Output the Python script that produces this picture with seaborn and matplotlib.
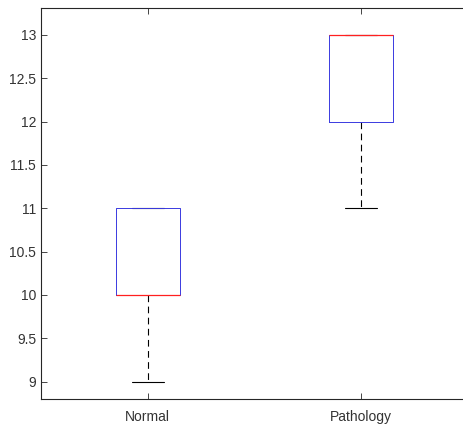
import matplotlib
matplotlib.use("Agg")
import matplotlib.pyplot as plt
import pandas as pd
import seaborn as sns

# raw values per group (quartiles / whiskers match the picture)
groups = ["Normal", "Pathology"]
normal_vals = [9, 10, 10, 11, 11]
pathology_vals = [11, 12, 13, 13, 13]
y_ticks = [9, 9.5, 10, 10.5, 11, 11.5, 12, 12.5, 13]

df = pd.DataFrame({
    "group": [groups[0]] * len(normal_vals) + [groups[1]] * len(pathology_vals),
    "value": normal_vals + pathology_vals,
})

sns.set_style("white")
plt.rcParams["font.family"] = ["Liberation Sans", "DejaVu Sans"]

fig = plt.figure(figsize=(4.64, 4.25), dpi=100)
ax = fig.add_axes([41 / 464, 1 - 399 / 425, 427 / 464, 391 / 425])

sns.boxplot(
    data=df, x="group", y="value", order=groups, ax=ax,
    width=0.3, whis=1.5, showfliers=False, fill=False,
    linewidth=0.7,
    boxprops=dict(color="#3a3ae0", linewidth=0.7),
    medianprops=dict(color="#ff2020", linewidth=0.9),
    whiskerprops=dict(color="black", linestyle=(0, (6, 4)), linewidth=0.8),
    capprops=dict(color="black", linewidth=0.8),
)
# draw order like the original: caps/whiskers under the box, median on top
for ln in ax.lines:
    c = ln.get_color()
    if c == "#ff2020":
        ln.set_zorder(5)
    elif c == "#3a3ae0":
        ln.set_zorder(4)
    else:
        ln.set_zorder(2)

ax.set_xlim(-0.5, 1.5)
ax.set_ylim(8.8, 13.31)
ax.set_yticks(y_ticks)
ax.set_yticklabels([f"{t:g}" for t in y_ticks])
ax.set_xlabel("")
ax.set_ylabel("")

for side in ["left", "top", "bottom"]:
    ax.spines[side].set_visible(True)
    ax.spines[side].set_color("#262626")
    ax.spines[side].set_linewidth(0.8)
ax.spines["right"].set_visible(False)
ax.patch.set_edgecolor("none")

ax.tick_params(direction="in", length=4, width=0.6, color="#262626",
               labelsize=10, labelcolor="#333333",
               top=True, right=False, left=True, bottom=True)
ax.tick_params(axis="x", pad=8)
ax.grid(False)

fig.savefig("out.png", dpi=100, facecolor="white")
